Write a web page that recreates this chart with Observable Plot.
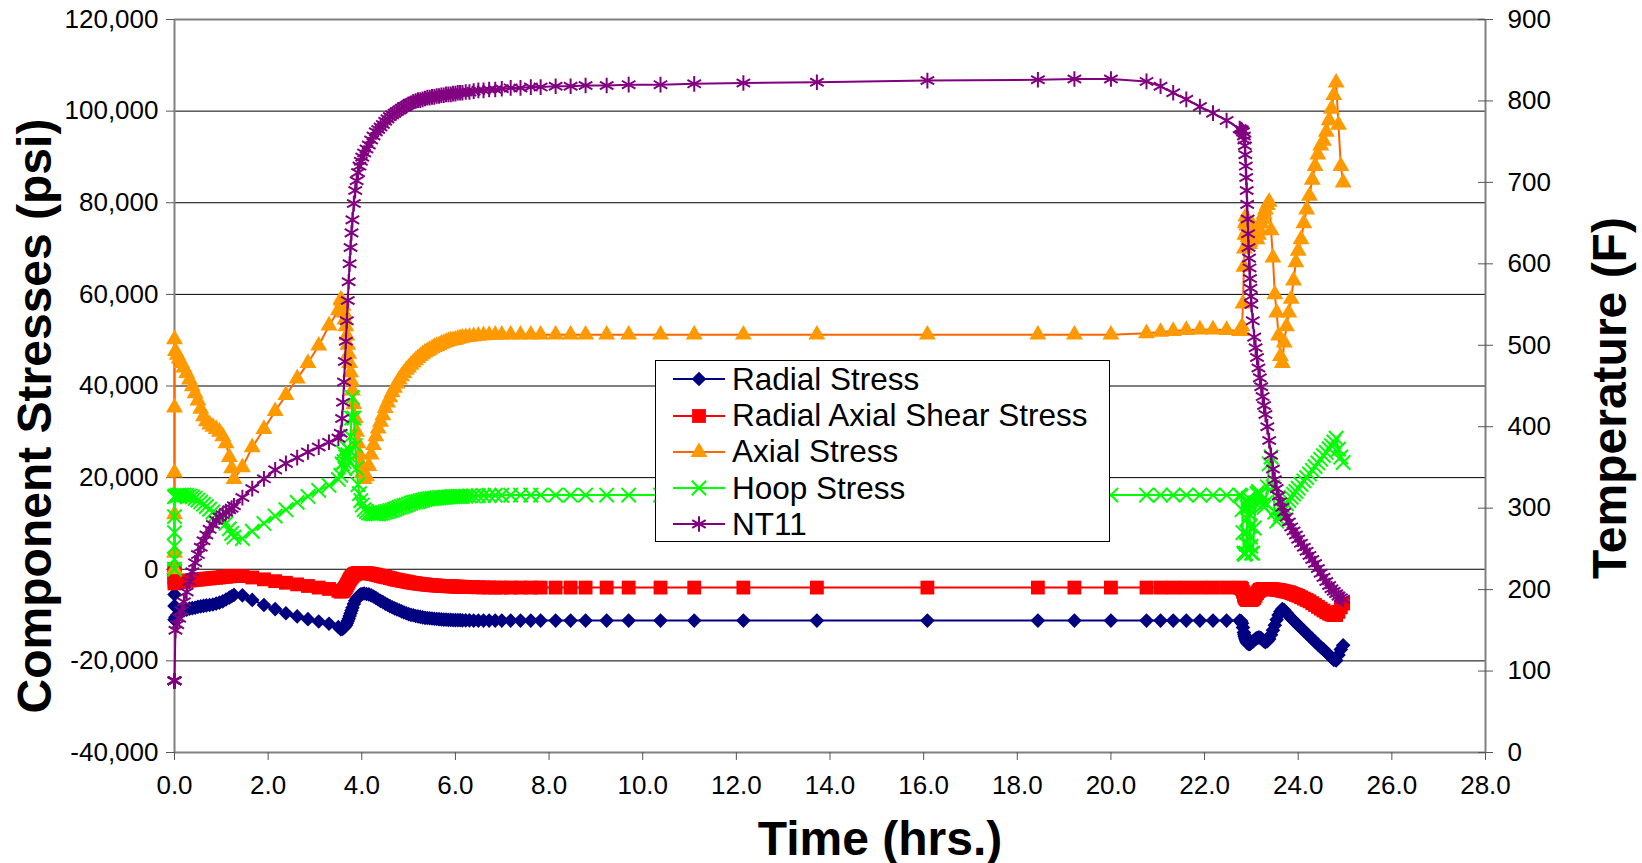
<!DOCTYPE html>
<html><head><meta charset="utf-8">
<script src="https://cdn.jsdelivr.net/npm/d3@7"></script>
<script src="https://cdn.jsdelivr.net/npm/@observablehq/plot@0.6"></script>
<style>
body{margin:0;background:#fff;}
#wrap{position:relative;width:1642px;height:863px;font-family:"Liberation Sans",Arial,sans-serif;}
#legend{position:absolute;left:655px;top:360px;width:453px;height:180px;border:1px solid #000;background:#fff;}
.row{position:absolute;left:0;height:36px;display:flex;align-items:center;font-size:31.5px;color:#000;white-space:nowrap;}
.row svg{display:block;}
</style></head><body><div id="wrap"><div id="chart"></div><div id="legend"></div></div>
<script>
// ---- data (hours, psi, degrees F) ----
const time = [
 0,0,0,0,0,0,
 0.02,0.06,0.10,0.15,0.20,0.26,0.32,0.38,0.44,0.50,0.56,0.62,0.68,0.75,0.82,0.89,0.96,1.03,1.10,1.17,1.22,1.27,
 1.45,1.66,1.91,2.15,2.38,2.62,2.85,3.08,3.30,3.50,
 3.55,3.58,3.60,3.62,3.64,3.66,3.68,3.70,3.72,3.74,3.76,3.78,3.80,3.83,3.86,3.89,3.92,3.95,3.98,4.01,4.05,4.10,
 4.15,4.20,4.25,4.30,4.35,4.40,4.45,4.50,4.55,4.60,
 4.65,4.70,4.75,4.80,4.85,4.90,4.95,5.00,5.05,5.10,
 5.15,5.20,5.25,5.30,5.35,5.40,5.45,5.50,5.55,5.60,
 5.65,5.70,5.75,5.80,5.85,5.90,5.95,6.00,6.05,6.10,
 6.15,6.22,6.30,6.39,6.49,6.60,6.72,6.85,6.99,
 7.18,7.39,7.61,7.82,8.14,8.46,8.78,9.23,9.70,10.38,11.10,12.15,13.72,16.08,18.44,19.22,20.00,
 20.76,21.06,21.33,21.61,21.90,22.18,22.47,22.75,
 22.78,22.80,22.82,22.84,22.85,22.86,22.87,22.88,22.89,22.90,22.91,22.92,22.93,22.94,22.95,22.96,22.97,22.98,22.99,23.00,
 23.03,23.06,23.09,23.12,23.15,23.18,23.21,23.24,23.27,23.30,
 23.34,23.38,23.42,23.46,23.50,23.54,23.58,23.62,23.66,23.70,
 23.75,23.80,23.85,23.90,23.95,24.00,24.06,24.12,24.18,24.24,
 24.30,24.36,24.42,24.48,24.54,24.60,24.66,24.71,24.76,24.81,
 24.86,24.91,24.96
];
const radialStress = [
 0,-1200,-3000,-5500,-8000,-11000,
 -10500,-10000,-9600,-9300,-9000,-8800,-8600,-8500,-8400,-8200,-8100,-8000,-7900,-7800,-7700,-7500,-7300,-7000,-6600,-6200,-5900,-5600,
 -5700,-6700,-7800,-8700,-9600,-10300,-10900,-11400,-11900,-12600,
 -13100,-13000,-12900,-12700,-12500,-12200,-11800,-11300,-10800,-10200,-9600,-9000,-8400,-7600,-6900,-6400,-6000,-5700,-5500,-5400,-5300,-5400,
 -5500,-5700,-5950,-6250,-6600,-6900,-7150,-7500,-7750,-8050,
 -8300,-8550,-8750,-8950,-9200,-9400,-9600,-9800,-9950,-10050,
 -10200,-10300,-10400,-10500,-10600,-10650,-10700,-10750,-10800,-10850,
 -10900,-10950,-11000,-11000,-11050,-11050,-11100,-11100,-11100,-11100,
 -11150,-11150,-11150,-11200,-11200,-11200,-11200,-11200,-11200,
 -11200,-11200,-11200,-11200,-11200,-11200,-11200,-11200,-11200,-11200,-11200,-11200,-11200,-11200,-11200,-11200,-11200,
 -11200,-11200,-11200,-11200,-11200,-11200,-11200,-11200,
 -11300,-11800,-12700,-13800,-14300,-14700,-15000,-15300,-15600,-15800,-16000,-16100,-16200,-16300,-16300,-16300,-16250,-16200,-16100,-16000,
 -15800,-15500,-15200,-15000,-14900,-14900,-15100,-15400,-15700,-15900,
 -15700,-15200,-14300,-13300,-12200,-11000,-10000,-9200,-8700,-8900,
 -9500,-10100,-10700,-11200,-11700,-12200,-12800,-13400,-14000,-14600,
 -15200,-15800,-16400,-17000,-17500,-18100,-18700,-19200,-19800,-19900,
 -18700,-17500,-16600
];
const shearStress = [
 0,-500,-1100,-1800,-2500,-3100,
 -3000,-2900,-2800,-2700,-2600,-2500,-2450,-2400,-2300,-2250,-2200,-2100,-2050,-2000,-1900,-1850,-1800,-1700,-1650,-1550,-1500,-1450,
 -1500,-1800,-2200,-2600,-2950,-3300,-3650,-4000,-4300,-4700,
 -4900,-4800,-4700,-4500,-4200,-3900,-3500,-3100,-2700,-2300,-2000,-1700,-1500,-1200,-1000,-900,-850,-800,-800,-800,-800,-850,
 -900,-1000,-1080,-1200,-1330,-1450,-1580,-1700,-1800,-1930,
 -2050,-2200,-2300,-2400,-2500,-2600,-2700,-2800,-2900,-2980,
 -3050,-3130,-3200,-3260,-3320,-3380,-3430,-3480,-3520,-3560,
 -3600,-3630,-3660,-3690,-3710,-3730,-3750,-3770,-3790,-3810,
 -3830,-3860,-3890,-3910,-3940,-3960,-3980,-4000,-4000,
 -4000,-4000,-4000,-4000,-4000,-4000,-4000,-4000,-4000,-4000,-4000,-4000,-4000,-4000,-4000,-4000,-4000,
 -4000,-4000,-4000,-4000,-4000,-4000,-4000,-4000,
 -4100,-4300,-4900,-5600,-5900,-6100,-6250,-6400,-6500,-6600,-6650,-6700,-6700,-6700,-6700,-6700,-6700,-6700,-6700,-6700,
 -6600,-6300,-5800,-5200,-4800,-4500,-4400,-4300,-4300,-4300,
 -4300,-4300,-4300,-4400,-4400,-4500,-4500,-4600,-4700,-4800,
 -4900,-5000,-5200,-5400,-5600,-5800,-6100,-6400,-6700,-7000,
 -7400,-7800,-8200,-8600,-9000,-9400,-9700,-9900,-10000,-10000,
 -9300,-8300,-7500
];
const axialStress = [
 0,3600,12000,21100,35300,50200,
 47600,46800,46000,45000,44000,42800,41400,39900,38400,36800,35000,33400,32300,31600,31100,30600,30000,29000,27500,24500,22000,19700,
 22250,26600,30600,34500,38000,41600,45000,48800,53200,56500,
 58800,58500,57500,56000,54500,53000,51000,49000,47000,45000,43000,41000,39000,36000,33000,30000,27500,25000,23000,21000,19700,20300,
 22500,25000,27100,29000,30700,32200,33600,35200,36400,37500,
 38600,39600,40500,41400,42100,42800,43500,44000,44600,45100,
 45600,46100,46500,46900,47300,47600,47900,48200,48500,48700,
 48900,49200,49400,49600,49800,49900,50000,50100,50300,50400,
 50500,50650,50750,50850,50950,51050,51100,51150,51200,
 51200,51200,51200,51200,51200,51200,51200,51200,51200,51200,51200,51200,51200,51200,51200,51200,51200,
 51500,51800,52000,52200,52300,52300,52200,52000,
 52000,53000,58000,66000,70000,73000,75500,77000,76000,75000,74000,73000,72500,72000,71500,71000,71500,72000,72800,73500,
 75000,74000,72500,72000,73000,74000,75500,76500,77500,78500,
 79500,80200,74000,68000,60000,56000,51000,46500,45000,49500,
 53000,56000,59000,63000,67000,69500,72000,75500,78500,81500,
 85000,88000,90500,92500,93500,95500,98000,100500,103500,106200,
 97000,88000,84400
];
const hoopStress = [
 0,2200,5000,8000,11500,15800,
 16000,16100,16200,16200,16200,16100,16000,15800,15500,15100,14700,14200,13700,13100,12500,12000,11500,11000,10000,8800,7800,7000,
 6700,8300,10000,11600,13000,14600,15900,17200,18300,19600,
 20500,23000,25500,23500,22000,24500,26500,25000,23500,26000,29000,33000,37500,33000,27000,22000,18500,16500,15000,14000,13000,12600,
 12300,12200,12100,12100,12100,12200,12300,12500,12600,12800,
 12900,13100,13300,13500,13700,13900,14000,14200,14400,14600,
 14700,14800,14950,15050,15200,15300,15400,15450,15500,15550,
 15600,15650,15700,15750,15800,15800,15850,15850,15900,15900,
 15900,15950,16000,16000,16050,16100,16100,16150,16150,
 16200,16200,16200,16200,16200,16200,16200,16200,16200,16200,16200,16200,16200,16200,16200,16200,16200,
 16200,16200,16200,16200,16200,16200,16200,16200,
 16000,13000,8000,3500,3300,3300,3400,3500,5500,8000,11000,13500,14800,15500,14000,12000,9500,7000,5000,3500,
 3500,9000,14500,16500,17000,16500,15000,14000,13500,14500,
 18000,23000,24500,18000,12500,10500,11000,12000,12800,13500,
 14300,15000,15700,16400,17000,17700,18500,19300,20000,20800,
 21600,22400,23200,24000,24800,25500,26300,27000,27800,28600,
 26200,24500,23300
];
const nt11 = [
 88,88,88,88,88,88,
 150,157,165,174,185,197,210,222,233,243,252,260,267,274,280,285,289,292,295,298,300,303,
 313,324,336,347,355,362,369,375,381,386,
 392,410,430,455,480,505,530,555,578,600,620,638,654,674,690,702,712,720,726,731,736,741,
 746,752,757,762,765,768,771,775,778,781,
 783,785,787,789,791,793,794,796,797,799,
 800,801,801,802,803,804,804,805,805,806,
 806,807,807,808,808,808,809,809,810,810,
 810,811,811,812,813,813,814,814,815,
 816,816,817,817,818,818,819,819,820,820,821,822,823,825,826,827,827,
 824,818,810,802,793,785,776,766,
 765,764,762,757,752,745,734,720,706,690,673,655,637,620,607,595,582,570,560,550,
 530,510,497,485,472,460,449,437,426,415,
 400,383,365,348,335,324,315,308,301,295,
 289,283,277,272,267,262,257,252,247,242,
 237,232,226,220,215,210,205,201,198,195,
 192,190,188
];
const xTicks = [0,2,4,6,8,10,12,14,16,18,20,22,24,26,28];
const yTicks = [-40000,-20000,0,20000,40000,60000,80000,100000,120000];
const tempTicks = [0,100,200,300,400,500,600,700,800,900];
const seriesNames = ["Radial Stress","Radial Axial Shear Stress","Axial Stress","Hoop Stress","NT11"];

const lens = [time, radialStress, shearStress, axialStress, hoopStress, nt11].map(a => a.length);
if (new Set(lens).size !== 1) throw new Error("length mismatch " + lens.join(","));

// secondary (temperature) axis mapped onto the stress scale
const Y0 = -40000, Y1 = 120000, T1 = 900;
const toLeft = T => Y0 + T * (Y1 - Y0) / T1;
const fromLeft = v => Math.round((v - Y0) * T1 / (Y1 - Y0));

const rows = time.map((t, i) => ({
  t, radial: radialStress[i], shear: shearStress[i], axial: axialStress[i],
  hoop: hoopStress[i], temp: toLeft(nt11[i])
}));

const fmt = d => d.toLocaleString("en-US");
const series = [
  {key: "radial", line: "#000080", symbol: "diamond2", r: 6.6, fill: "#000080"},
  {key: "shear", line: "#FF0000", symbol: "square", r: 7.8, fill: "#FF0000"},
  {key: "axial", line: "#FF6600", symbol: "triangle", r: 6.3, fill: "#FF9900"},
  {key: "hoop", line: "#00FF00", symbol: "times", r: 6.6, stroke: "#00FF00"},
  {key: "temp", line: "#800080", symbol: "asterisk", r: 7.4, stroke: "#800080"}
];

const marks = [
  Plot.ruleY(yTicks.filter(v => v > Y0 && v < Y1), {stroke: "#000", strokeWidth: 1}),
  Plot.ruleY([Y1], {stroke: "#808080", strokeWidth: 2}),
  Plot.ruleY([Y0], {stroke: "#808080", strokeWidth: 2}),
  Plot.ruleX([0], {stroke: "#808080", strokeWidth: 2}),
  Plot.ruleX([28], {stroke: "#808080", strokeWidth: 2}),
  Plot.axisX(xTicks, {tickFormat: d => d.toFixed(1), tickSize: 8, tickPadding: 15, fontSize: 26, stroke: "#555", label: null}),
  Plot.axisY(yTicks, {anchor: "left", tickFormat: fmt, tickSize: 8, tickPadding: 8, fontSize: 26, stroke: "#555", label: null}),
  Plot.axisY(tempTicks.map(toLeft), {anchor: "right", tickFormat: fromLeft, tickSize: 7, tickPadding: 15, fontSize: 26, stroke: "#555", label: null}),
  Plot.axisY(tempTicks.map(toLeft), {anchor: "right", tickFormat: () => "", tickSize: 8, dx: -8, stroke: "#555", label: null})
];
for (const s of series) {
  marks.push(Plot.line(rows, {x: "t", y: s.key, stroke: s.line, strokeWidth: 2}));
  marks.push(Plot.dot(rows, s.fill
    ? {x: "t", y: s.key, symbol: s.symbol, r: s.r, fill: s.fill}
    : {x: "t", y: s.key, symbol: s.symbol, r: s.r, stroke: s.stroke, strokeWidth: 2, fill: "none"}));
}
const titleStyle = {text: d => d, textAnchor: "middle", lineAnchor: "middle", fontSize: 48, fontWeight: "bold", fill: "#000"};
marks.push(
  Plot.text(["Component Stresses (psi)"], {...titleStyle, frameAnchor: "left", rotate: -90, dx: -139, dy: 30}),
  Plot.text(["Temperature (F)"], {...titleStyle, frameAnchor: "right", rotate: -90, dx: 125, dy: 12}),
  Plot.text(["Time (hrs.)"], {...titleStyle, frameAnchor: "bottom", dx: 50, dy: 87})
);

const chart = Plot.plot({
  width: 1642, height: 863,
  marginLeft: 174, marginRight: 157, marginTop: 19, marginBottom: 111,
  x: {domain: [0, 28]},
  y: {domain: [Y0, Y1]},
  style: {fontFamily: '"Liberation Sans", Arial, sans-serif', fontSize: "26px", color: "#000", background: "#fff", overflow: "visible"},
  marks
});
document.getElementById("chart").appendChild(chart);

// legend
const legend = document.getElementById("legend");
const symMap = {diamond2: d3.symbolDiamond2, square: d3.symbolSquare, triangle: d3.symbolTriangle, times: d3.symbolTimes, asterisk: d3.symbolAsterisk};
series.forEach((s, i) => {
  const row = document.createElement("div");
  row.className = "row";
  row.style.top = (0.3 + i * 36.25) + "px";
  const path = d3.symbol(symMap[s.symbol], Math.PI * s.r * s.r)();
  const markerAttrs = s.fill ? `fill="${s.fill}"` : `fill="none" stroke="${s.stroke}" stroke-width="2"`;
  row.innerHTML = `<svg width="76" height="36"><line x1="17" x2="69" y1="18" y2="18" stroke="${s.line}" stroke-width="2"/>` +
    `<path transform="translate(43,18)" d="${path}" ${markerAttrs}/></svg><span>${seriesNames[i]}</span>`;
  legend.appendChild(row);
});
</script></body></html>
